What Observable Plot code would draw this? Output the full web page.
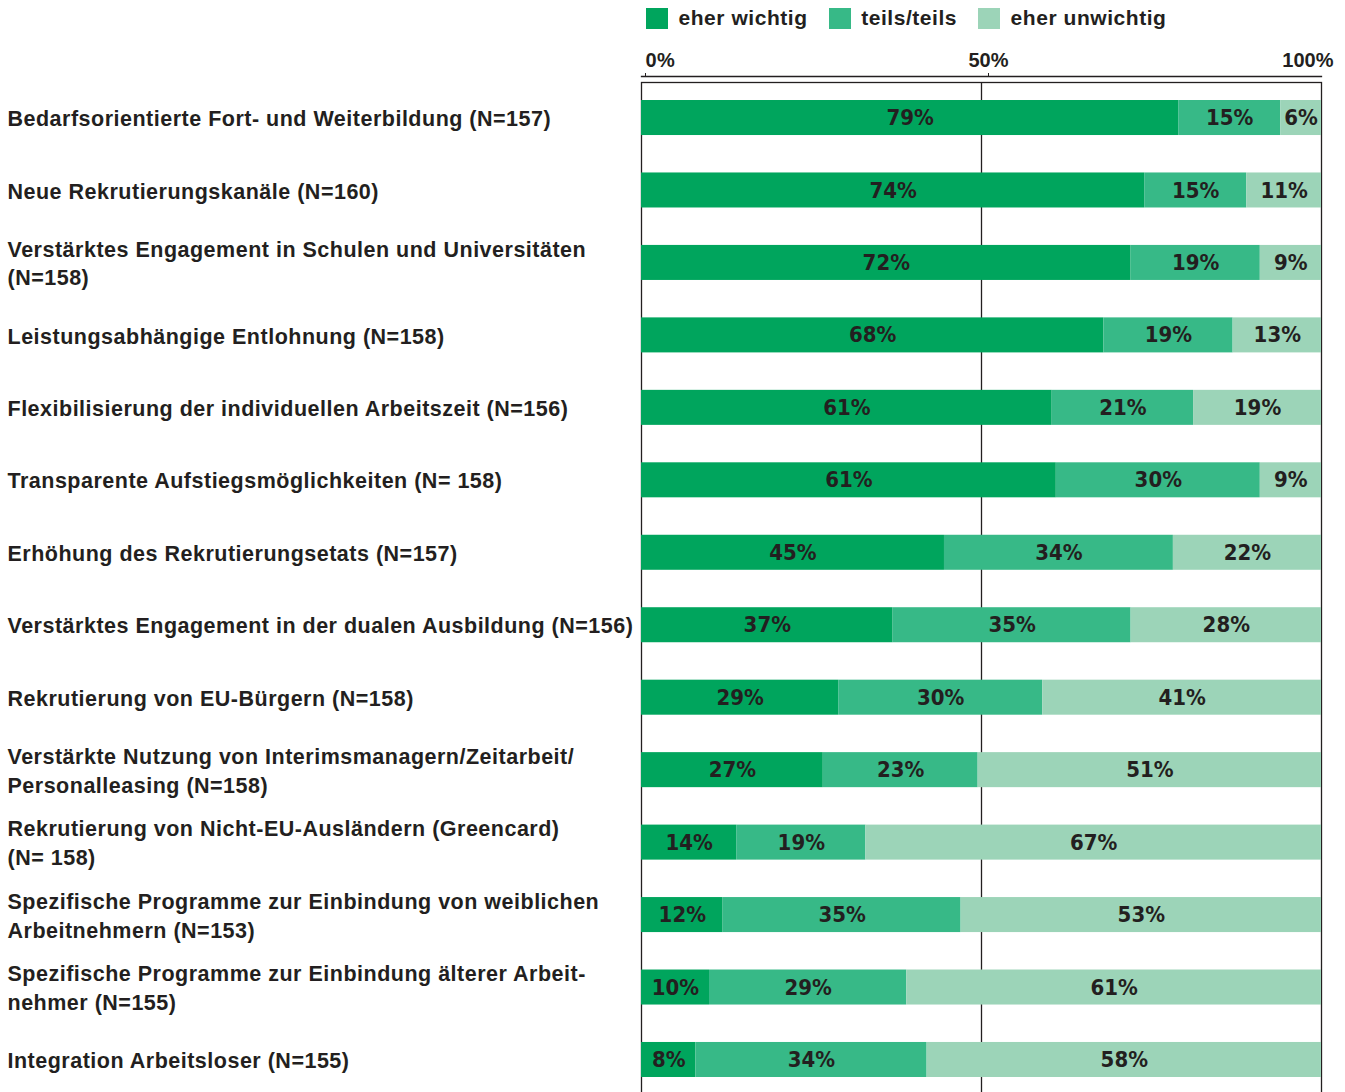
<!DOCTYPE html>
<html>
<head>
<meta charset="utf-8">
<script src="https://cdn.jsdelivr.net/npm/d3@7"></script>
<script src="https://cdn.jsdelivr.net/npm/@observablehq/plot@0.6"></script>
<style>
  html, body { margin: 0; padding: 0; background: #fff; overflow: hidden; }
  #chart { position: relative; width: 1345px; height: 1092px; }
  #legend { position: absolute; left: 0; top: 1px; }
  #plot { position: absolute; left: 0; top: 34px; }
  #legend .lg-swatch { margin-right: 21px; letter-spacing: 0.55px; }
  #plot svg g[text-anchor="start"] text { letter-spacing: 0.5px; }
</style>
</head>
<body>
<div id="chart"><div id="legend"></div><div id="plot"></div></div>
<script>
// ---- data ----
const categories = [
  "Bedarfsorientierte Fort- und Weiterbildung (N=157)",
  "Neue Rekrutierungskanäle (N=160)",
  "Verstärktes Engagement in Schulen und Universitäten\n(N=158)",
  "Leistungsabhängige Entlohnung (N=158)",
  "Flexibilisierung der individuellen Arbeitszeit (N=156)",
  "Transparente Aufstiegsmöglichkeiten (N= 158)",
  "Erhöhung des Rekrutierungsetats (N=157)",
  "Verstärktes Engagement in der dualen Ausbildung (N=156)",
  "Rekrutierung von EU-Bürgern (N=158)",
  "Verstärkte Nutzung von Interimsmanagern/Zeitarbeit/\nPersonalleasing (N=158)",
  "Rekrutierung von Nicht-EU-Ausländern (Greencard)\n(N= 158)",
  "Spezifische Programme zur Einbindung von weiblichen\nArbeitnehmern (N=153)",
  "Spezifische Programme zur Einbindung älterer Arbeit-\nnehmer (N=155)",
  "Integration Arbeitsloser (N=155)"
];
const seriesNames = ["eher wichtig", "teils/teils", "eher unwichtig"];
const seriesColors = ["#00a55d", "#37b987", "#9cd4b8"];
const eherWichtig   = [79, 74, 72, 68, 61, 61, 45, 37, 29, 27, 14, 12, 10, 8];
const teilsTeils    = [15, 15, 19, 19, 21, 30, 34, 35, 30, 23, 19, 35, 29, 34];
const eherUnwichtig = [ 6, 11,  9, 13, 19,  9, 22, 28, 41, 51, 67, 53, 61, 58];
const tickValues = [0, 50, 100];
const gridValues = [50];

// ---- table built from the arrays ----
const seriesValues = [eherWichtig, teilsTeils, eherUnwichtig];
const rows = [];
categories.forEach((cat, i) => {
  seriesNames.forEach((s, j) => {
    rows.push({cat, series: s, value: seriesValues[j][i]});
  });
});

const ink = "#231f20";
const labelFont = "'Liberation Sans', Arial, sans-serif";
const valueFont = "'Liberation Sans Narrow', 'Arial Narrow', 'DejaVu Sans Condensed', sans-serif";
const pct = d => Math.round(d * 100) + "%";

const legend = Plot.legend({
  color: {domain: seriesNames, range: seriesColors},
  legend: "swatches",
  className: "lg",
  swatchWidth: 22,
  swatchHeight: 21,
  style: {
    fontFamily: labelFont,
    fontSize: "21px",
    fontWeight: "bold",
    color: ink,
    marginLeft: "646px",
    marginTop: "0px",
    marginBottom: "0px",
    height: "34px",
    minHeight: "34px"
  }
});

const stackOpts = {x: "value", y: "cat", z: "series", order: seriesNames, offset: "normalize"};
const axisStyle = {anchor: "top", label: null, dy: -6, tickPadding: 6, tickFormat: pct, fontSize: 20, fontWeight: "bold", stroke: ink, fill: ink};

const plot = Plot.plot({
  width: 1345,
  height: 1068,
  marginTop: 48,
  marginBottom: 7,
  marginLeft: 641,
  marginRight: 24,
  style: {fontFamily: labelFont, color: ink, background: "#fff"},
  x: {domain: [0, 1], axis: null, label: null},
  y: {domain: categories, axis: null, paddingInner: 0.5167, paddingOuter: 0.2485, align: 0.5, round: false},
  color: {domain: seriesNames, range: seriesColors},
  marks: [
    Plot.frame({stroke: ink, strokeWidth: 1.3}),
    Plot.ruleX(gridValues.map(v => v / 100), {stroke: ink, strokeWidth: 1.3}),
    Plot.frame({anchor: "top", dy: -6, stroke: ink, strokeWidth: 1.3}),
    Plot.axisX([tickValues[0] / 100], {...axisStyle, tickSize: 4, textAnchor: "start", dx: 4}),
    Plot.axisX([tickValues[1] / 100], {...axisStyle, tickSize: 4, textAnchor: "middle", dx: 7}),
    Plot.axisX([tickValues[2] / 100], {...axisStyle, tickSize: 0, tickPadding: 10, textAnchor: "end", dx: 12}),
    Plot.barX(rows, Plot.stackX({...stackOpts, fill: "series"})),
    Plot.text(rows, Plot.stackX({...stackOpts, text: d => d.value + "%", fill: ink, fontSize: 22, fontWeight: "bold", fontFamily: valueFont})),
    Plot.text(categories, {y: d => d, text: d => d, frameAnchor: "left", textAnchor: "start", dx: -634, dy: -1, lineAnchor: "middle", lineHeight: 1.33, fontSize: 21.5, fontWeight: "bold", fill: ink})
  ]
});

document.getElementById("legend").appendChild(legend);
document.getElementById("plot").appendChild(plot);
</script>
</body>
</html>
